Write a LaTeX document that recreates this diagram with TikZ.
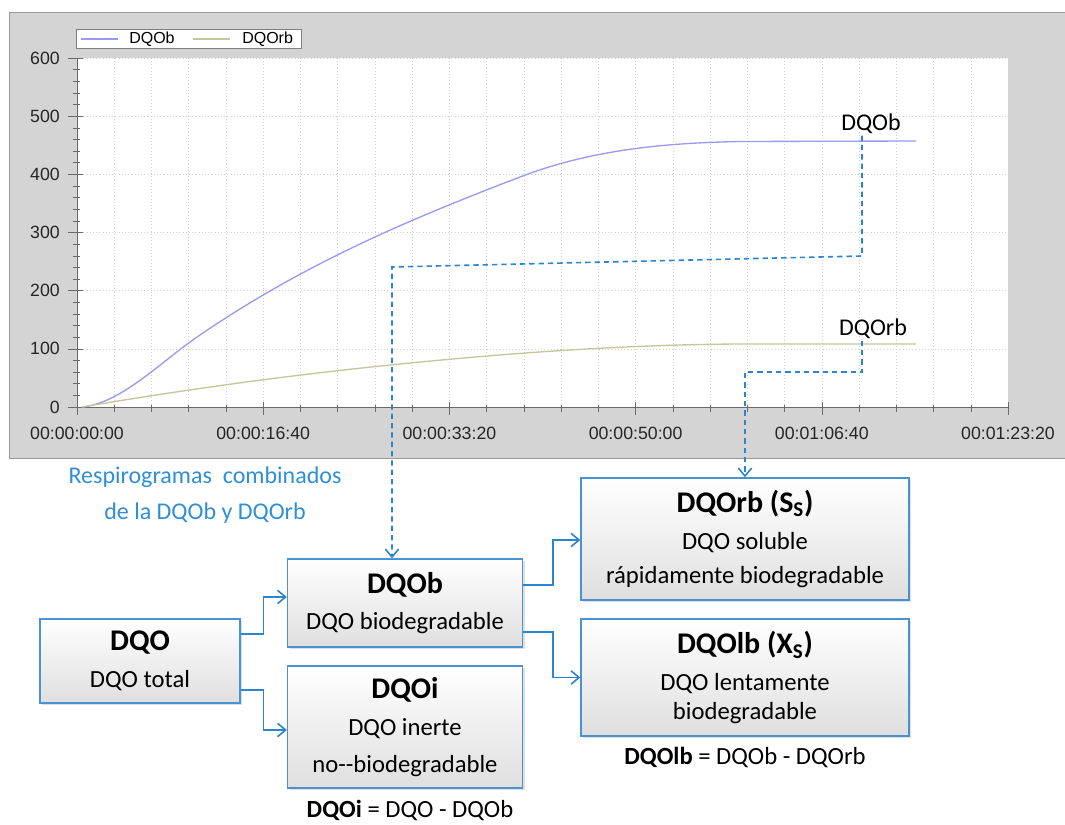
\documentclass[tikz,border=0pt]{standalone}
\usepackage{fontspec}
\setmainfont{Carlito}
\newfontfamily\chartfont{Liberation Sans}
\usetikzlibrary{calc,shadows,arrows.meta}

\definecolor{panelgray}{HTML}{D4D4D4}
\definecolor{axisgray}{HTML}{6A6A6A}
\definecolor{gridgray}{HTML}{CFCFCF}
\definecolor{curveb}{HTML}{9A9AF4}
\definecolor{curverb}{HTML}{C6C69A}
\definecolor{linkblue}{HTML}{2C84CC}
\definecolor{boxblue}{HTML}{4A92D2}
\definecolor{noteblue}{HTML}{2E8FD8}

\newcommand\titlefont{\fontsize{22.5}{28}\selectfont\bfseries}

\begin{document}
\begin{tikzpicture}[x=0.75pt, y=-0.75pt,
    box/.style={draw=boxblue, line width=1pt, top color=white, bottom color=gray!25,
        align=center, inner sep=0pt, font=\fontsize{18.5}{27.5}\selectfont,
        drop shadow={shadow xshift=1.5pt, shadow yshift=-1.5pt, opacity=0.25}},
    link/.style={linkblue, line width=1.2pt, -{Straight Barb[length=6pt, width=10pt]}},
    dlink/.style={link, dash pattern=on 4pt off 3pt},
    ticklab/.style={font=\chartfont\fontsize{13.3}{15}\selectfont, text=black!85}]
    % Size of one pixel of the original
    \def\px{0.75pt}
    \useasboundingbox (0,0) rectangle (1065,825);

    % Chart panel and plot area
    \fill[panelgray] (9,12) rectangle (1065,458);
    \draw[gray!80] (1065,12) -- (9,12) -- (9,458) -- (1065,458);
    \fill[white] (77,58) rectangle (1008,407);

    % Dotted grid
    \foreach \k in {1,...,24}
        \draw[gridgray, dotted] ({77+\k*37.24},58) -- ({77+\k*37.24},407);
    \foreach \k in {1,...,6}
        \draw[gridgray, dotted] (77,{407-\k*58.17}) -- (1008,{407-\k*58.17});

    % Axes with ticks
    \draw[axisgray] (77,58) -- (77,407) -- (1008,407);
    \foreach \k in {0,...,25}
        \draw[axisgray] ({77+\k*37.24},405) -- ({77+\k*37.24},412);
    \foreach \k in {0,...,30}
        \draw[axisgray] (73,{407-\k*11.633}) -- (80,{407-\k*11.633});
    \foreach \k/\lab in {0/00:00:00:00, 1/00:00:16:40, 2/00:00:33:20, 3/00:00:50:00, 4/00:01:06:40, 5/00:01:23:20} {
        \draw[axisgray] ({77+\k*186.2},402) -- ({77+\k*186.2},415);
        \node[ticklab] (xl\k) at ({77+\k*186.2},433) {\lab};
    }
    \foreach \k in {0,...,6} {
        \draw[axisgray] (68,{407-\k*58.17}) -- (83,{407-\k*58.17});
        \node[ticklab, anchor=east, inner sep=0pt] (yl\k) at (60,{407-\k*58.17}) {\pgfmathparse{int(\k*100)}\pgfmathresult};
    }

    % Legend
    \draw[gray, fill=white] (76,29) rectangle (301,48);
    \draw[curveb, line width=1pt] (81,39) -- (118,39);
    \node[font=\chartfont\fontsize{12}{14}\selectfont, anchor=west, inner sep=0pt] (legb) at (129,39) {DQOb};
    \draw[curverb, line width=1pt] (193,39) -- (230,39);
    \node[font=\chartfont\fontsize{12}{14}\selectfont, anchor=west, inner sep=0pt] (legrb) at (242,39) {DQOrb};

    % Respirogram curves
    \draw[curveb, line width=1pt] (82,407) .. controls (122,403) and (160,362) .. (200,335)
        .. controls (307,262) and (413,218) .. (520,177)
        .. controls (593,149) and (667,143) .. (740,141.5) -- (916,141);
    \draw[curverb, line width=1pt] (82,407) .. controls (188,389) and (294,374.6) .. (400,364)
        .. controls (513,352.7) and (627,344.6) .. (740,344) -- (916,344);

    % Curve labels
    \node[font=\fontsize{18}{20}\selectfont, inner sep=1pt] (lblb) at (871,124) {DQOb};
    \node[font=\fontsize{18}{20}\selectfont, inner sep=1pt] (lblrb) at (873,329) {DQOrb};

    % Boxes
    \node[box, minimum width=200*\px, minimum height=84*\px] (dqo) at (140,661) {{\titlefont DQO}\\DQO total};
    \node[box, minimum width=235*\px, minimum height=88*\px] (dqob) at (405,603) {{\titlefont DQOb}\\DQO biodegradable};
    \node[box, minimum width=235*\px, minimum height=122*\px] (dqoi) at (405,727) {{\titlefont DQOi}\\DQO inerte\\no-\kern0pt-biodegradable};
    \node[box, minimum width=328*\px, minimum height=122*\px] (dqorb) at (745,539) {{\titlefont DQOrb (S\textsubscript{S})}\\DQO soluble\\[-2pt]rápidamente biodegradable};
    \node[box, minimum width=328*\px, minimum height=117*\px] (dqolb) at (745,677.5) {{\titlefont DQOlb (X\textsubscript{S})}\\DQO lentamente\\[-6pt]biodegradable};

    % Equations and note
    \node[font=\fontsize{18.5}{22}\selectfont] (eqlb) at (745,757) {\textbf{DQOlb} = DQOb - DQOrb};
    \node[font=\fontsize{18.5}{22}\selectfont] (eqi) at (410,810) {\textbf{DQOi} = DQO - DQOb};
    \node[noteblue, align=center, font=\fontsize{18}{27}\selectfont] (note) at (205,495) {Respirogramas\ \ combinados\\de la DQOb y DQOrb};

    % Solid links
    \draw[link] ($(dqo.east)+(0,-27)$) -- ++(23,0) |- ($(dqob.west)+(0,-6)$);
    \draw[link] ($(dqo.east)+(0,29)$) -- ++(23,0) |- ($(dqoi.west)+(0,3)$);
    \draw[link] ($(dqob.east)+(0,-18)$) -- ++(30,0) |- ($(dqorb.west)+(0,1)$);
    \draw[link] ($(dqob.east)+(0,29)$) -- ++(30,0) |- (dqolb.west);

    % Dashed links from the curves
    \coordinate (kb1) at (862,256);
    \coordinate (kb2) at (392,267);
    \coordinate (kr1) at (862,372);
    \coordinate (kr2) at (745,372);
    \draw[dlink] (lblb.south -| kb1) -- (kb1) -- (kb2) -- (kb2 |- dqob.north);
    \draw[dlink] (lblrb.south -| kr1) -- (kr1) -- (kr2) -- (kr2 |- dqorb.north);
\end{tikzpicture}
\end{document}
